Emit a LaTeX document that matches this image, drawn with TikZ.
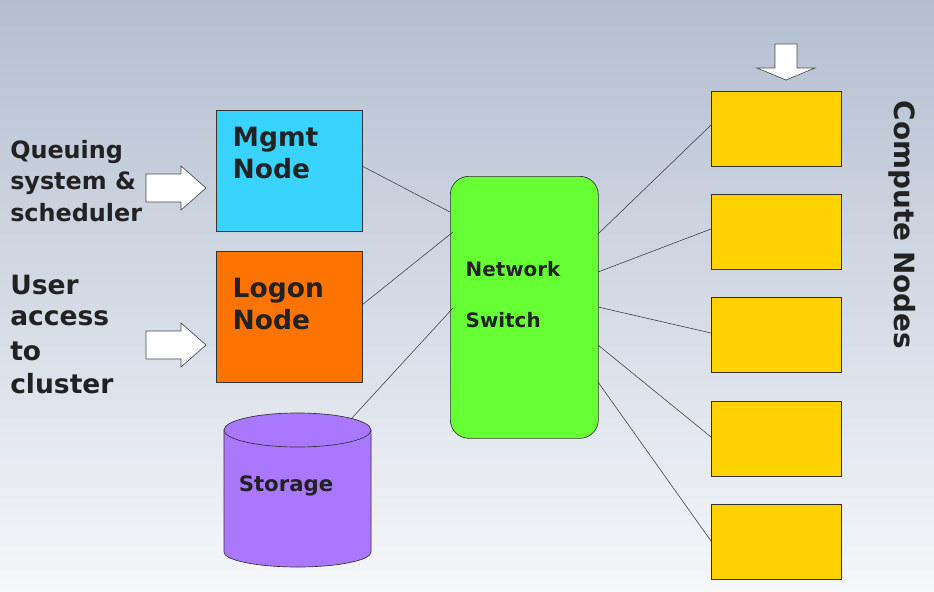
\documentclass[tikz,border=0pt]{standalone}
\usepackage{fontspec}
\setmainfont{DejaVu Sans}
\definecolor{bgtop}{HTML}{B3BECF}
\definecolor{bgbot}{HTML}{F5F7FA}
\definecolor{txt}{HTML}{222222}
\definecolor{purp}{RGB}{170,119,255}
\begin{document}
\begin{tikzpicture}[x=0.0265cm,y=-0.0265cm,
  box/.style={draw=black!80,line width=0.5pt,anchor=north west,inner sep=0},
  lbl/.style={font=\bfseries\fontsize{20}{24.5}\selectfont,text=txt,align=left},
  side/.style={font=\bfseries\fontsize{18}{20}\selectfont,text=txt,align=left,anchor=west,inner sep=0},
  arr/.style={draw=black!70,fill=white,line width=0.5pt},
  wire/.style={draw=black!80,line width=0.4pt}]
\shade[top color=bgtop,bottom color=bgbot] (0,0) rectangle (934,592);
\useasboundingbox (0,0) rectangle (934,592);
\node[box,fill={rgb,255:red,56;green,211;blue,255},minimum width=146*0.0265cm,minimum height=121*0.0265cm] (mgmt) at (216,110) {};
\node[lbl,anchor=north west] at (228,122) {Mgmt\\Node};
\node[box,fill={rgb,255:red,255;green,115;blue,0},minimum width=146*0.0265cm,minimum height=131*0.0265cm] (logon) at (216,251) {};
\node[lbl,anchor=north west] at (228,273) {Logon\\Node};
\draw[draw=black!80,fill=purp,line width=0.5pt] (224,430) -- (224,552) arc[start angle=180,end angle=0,x radius=73.5,y radius=15] -- (371,430);
\draw[draw=black!80,fill=purp,line width=0.5pt] (297.5,430) ellipse[x radius=73.5,y radius=17];
\node[inner sep=0] (stor) at (297.5,490) {};
\node[font=\bfseries\fontsize{16}{18}\selectfont,text=txt] at (286,486) {Storage};
\node[box,rounded corners=14pt,fill={rgb,255:red,102;green,255;blue,51},minimum width=148*0.0265cm,minimum height=262*0.0265cm] (sw) at (450,176) {};
\node[font=\bfseries\fontsize{15}{17}\selectfont,text=txt,anchor=west] at (461,269) {Network};
\node[font=\bfseries\fontsize{15}{17}\selectfont,text=txt,anchor=west] at (461,320) {Switch};
\foreach \i/\y in {1/91,2/194,3/297,4/401,5/504}
  \node[box,fill={rgb,255:red,255;green,210;blue,0},minimum width=130*0.0265cm,minimum height=75*0.0265cm] (c\i) at (711,\y) {};
\coordinate (m1) at (362,166); \coordinate (s1) at (450,212);
\coordinate (l1) at (362,305); \coordinate (s2) at (453,232);
\coordinate (t1) at (352,418); \coordinate (s3) at (453,308);
\draw[wire] (m1)--(s1); \draw[wire] (l1)--(s2); \draw[wire] (t1)--(s3);
\foreach \i/\ya/\yb in {1/234/125,2/272/229,3/307/333,4/345/437,5/382/541}{
  \coordinate (a\i) at (598,\ya); \coordinate (b\i) at (711,\yb);
  \draw[wire] (a\i)--(b\i);}
\foreach \y in {188,345}
  \draw[arr] (146,\y-14)--(181,\y-14)--(181,\y-22)--(206,\y)--(181,\y+22)--(181,\y+14)--(146,\y+14)--cycle;
\draw[arr] (775,44)--(797,44)--(797,68)--(815,68)--(786,80)--(757,68)--(775,68)--cycle;
\node[side] at (10,152) {Queuing};
\node[side] at (10,183) {system \&};
\node[side] at (10,213) {scheduler};
\node[side,font=\bfseries\fontsize{20}{22}\selectfont] at (10,285) {User};
\node[side,font=\bfseries\fontsize{20}{22}\selectfont] at (10,318) {access};
\node[side,font=\bfseries\fontsize{20}{22}\selectfont] at (10,351) {to};
\node[side,font=\bfseries\fontsize{20}{22}\selectfont] at (10,384) {cluster};
\node[font=\bfseries\fontsize{21}{23}\selectfont,text=txt,rotate=-90] at (902,225) {Compute Nodes};
\end{tikzpicture}
\end{document}
